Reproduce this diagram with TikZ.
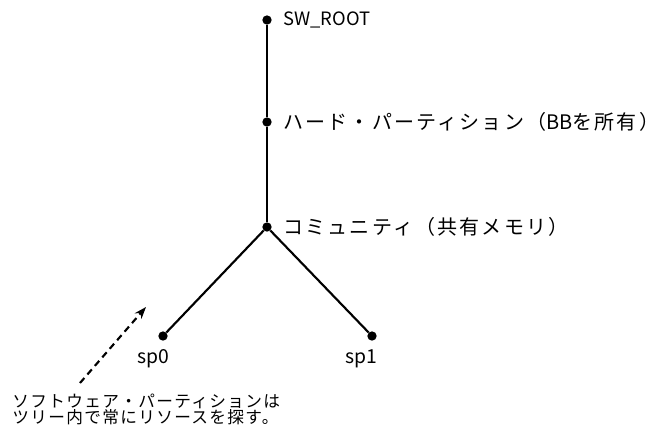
\documentclass[tikz,border=0pt]{standalone}
\usepackage{fontspec}
\setmainfont{Noto Sans CJK JP}
\newfontfamily\jplab[LetterSpace=11]{Noto Sans CJK JP}
\newfontfamily\jpnote[LetterSpace=8]{Noto Sans CJK JP}
\newfontfamily\plain{Noto Sans CJK JP}
\usetikzlibrary{arrows.meta}
\begin{document}
\begin{tikzpicture}[x=0.75pt,y=-0.75pt,
  dot/.style={circle,fill=black,inner sep=0pt,minimum size=7pt},
  lab/.style={anchor=west,inner sep=0pt,font=\jplab\fontsize{15pt}{17pt}\selectfont},
  latin/.style={anchor=west,inner sep=0pt,font=\plain\fontsize{13.8pt}{16pt}\selectfont},
  leaf/.style={inner sep=0pt,font=\plain\fontsize{14.5pt}{16pt}\selectfont},
  note/.style={anchor=north west,inner sep=0pt,align=left,font=\jpnote\fontsize{12.5pt}{11.5pt}\selectfont},
  edge/.style={line width=1.6pt},
  hint/.style={line width=1.6pt,dash pattern=on 5pt off 3.5pt,-{Stealth[length=9pt,width=6.5pt]}}]
\useasboundingbox (0,0) rectangle (662,430);
\node[dot] (root) at (267,20) {};
\node[dot] (hard) at (267,122) {};
\node[dot] (comm) at (267,227) {};
\node[dot] (sp0) at (163,336) {};
\node[dot] (sp1) at (372,336) {};
\node[latin] (rootl) at (283,20) {SW\_ROOT};
\node[lab] (hardl) at (283,122) {ハード・パーティション（{\plain BB}を所有）};
\node[lab] (comml) at (283,227) {コミュニティ（共有メモリ）};
\node[leaf] (sp0l) at (153,359) {sp0};
\node[leaf] (sp1l) at (361,359) {sp1};
\draw[edge] (root) -- (hard);
\draw[edge] (hard) -- (comm);
\draw[edge] (comm) -- (sp0);
\draw[edge] (comm) -- (sp1);
\node[note] (note) at (12,394) {ソフトウェア・パーティションは\\ツリー内で常にリソースを探す。};
\coordinate (from) at (80,383);
\coordinate (to) at (146,307);
\draw[hint] (from) -- (to);
\end{tikzpicture}
\end{document}
